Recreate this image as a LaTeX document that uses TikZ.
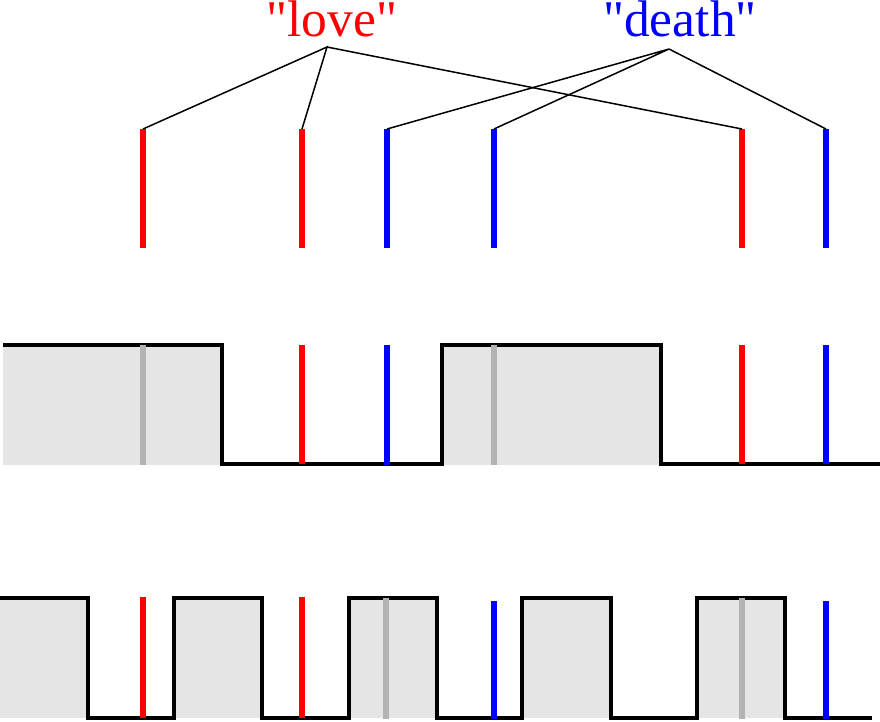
\documentclass[tikz,border=0pt]{standalone}
\usepackage{fontspec}
\setmainfont{Liberation Serif}
\newfontfamily\wordfont{Liberation Serif}
\definecolor{fillgray}{HTML}{E5E5E5}
\definecolor{bargray}{HTML}{B3B3B3}
\begin{document}
\begin{tikzpicture}[x=1pt,y=-1pt,
  wave/.style={draw=black,line width=3.2pt,line join=miter},
  hi/.style={fill=fillgray},
  bar/.style={line width=5.5pt},
  conn/.style={draw=black,line width=1.5pt},
  word/.style={font=\wordfont\fontsize{51.5}{55}\selectfont,inner sep=0pt,anchor=base}]
\useasboundingbox (0,0) rectangle (880,721);
% labels
\node[word,text=red] (love) at (332,36) {"love"};
\node[word,text=blue] (death) at (680,36) {"death"};
\coordinate (la) at (327,47);
\coordinate (da) at (669,49);
% top bars
\foreach \n/\x/\c in {t1/143/red,t2/302/red,t3/387/blue,t4/494/blue,t5/742/red,t6/826/blue}{
  \coordinate (\n) at (\x,129);
  \draw[bar,\c] (\n) -- (\x,248);
}
% connectors
\draw[conn] (t1) -- (la) -- (t2);
\draw[conn] (la) -- (t5);
\draw[conn] (t3) -- (da) -- (t4);
\draw[conn] (da) -- (t6);
% middle row
\fill[hi] (3,345) rectangle (222,465);
\fill[hi] (442,345) rectangle (661,465);
\draw[wave] (3,345) -- (222,345) -- (222,464) -- (442,464) -- (442,345) -- (661,345) -- (661,464) -- (880,464);
\draw[bar,bargray] (143,345) -- (143,465);
\draw[bar,red] (302,345) -- (302,464);
\draw[bar,blue] (387,345) -- (387,465);
\draw[bar,bargray] (494,345) -- (494,465);
\draw[bar,red] (742,345) -- (742,464);
\draw[bar,blue] (826,345) -- (826,464);
% bottom row
\foreach \a/\b in {0/88,174/262,349/437,522/611,697/785}{
  \fill[hi] (\a,598) rectangle (\b,718);
}
\draw[wave] (0,598) -- (88,598) -- (88,718) -- (174,718) -- (174,598) -- (262,598) -- (262,718) -- (349,718) -- (349,598) -- (437,598) -- (437,718) -- (522,718) -- (522,598) -- (611,598) -- (611,718) -- (697,718) -- (697,598) -- (785,598) -- (785,718) -- (872,718);
\draw[bar,red] (143,597) -- (143,718);
\draw[bar,red] (302,597) -- (302,718);
\draw[bar,bargray] (386,598) -- (386,719);
\draw[bar,blue] (494,601) -- (494,719);
\draw[bar,bargray] (742,598) -- (742,719);
\draw[bar,blue] (826,601) -- (826,719);
\end{tikzpicture}
\end{document}
